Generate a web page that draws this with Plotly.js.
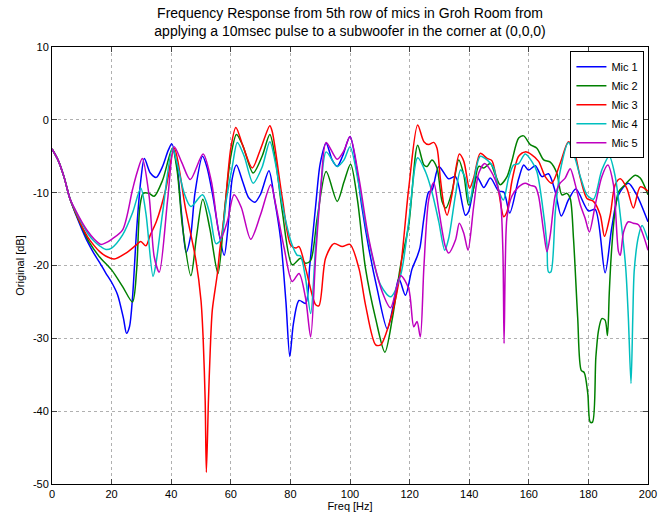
<!DOCTYPE html>
<html>
<head>
<meta charset="utf-8">
<script src="https://cdn.plot.ly/plotly-3.0.1.min.js"></script>
<style>html,body{margin:0;padding:0;background:#fff;}#chart{width:658px;height:517px;}</style>
</head>
<body>
<div id="chart"></div>
<script>
const seriesNames = ["Mic 1", "Mic 2", "Mic 3", "Mic 4", "Mic 5"];

const freq1 = [0,2,4,6,8,10,12,14,16,18,20,22,24,25,26,27,28.4,29.8,31,33,35,37,39,40.2,42,43.5,45,46.5,48,50.5,52,54,56,57.8,59,60.5,61.9,64,66,68.1,70,72.8,74.5,76.7,78.5,79.8,81,82.9,85.1,86.5,88.5,90,92,94,95.7,97.5,100,102,104,106.3,109,112.5,114.5,116.4,118.6,120.8,122.5,123.5,124.8,126.4,127.5,129.8,133.1,135.4,138.7,139.8,142.6,144.9,147.1,149.9,151.6,153.6,156.6,158.3,159.9,162.2,164.4,166.6,168.9,170.9,173.3,175.8,180,182.3,185.6,187.8,190.1,193.4,196.2,200];
const mic1 = [-4,-5.5,-7.8,-10.8,-13,-15,-16.8,-18.3,-19.6,-21,-22.3,-24,-27.3,-29.3,-28.4,-24.5,-15.1,-8.3,-5.3,-7.3,-7.9,-6.5,-4.2,-3.3,-6.5,-13,-18.2,-16,-10,-5.0,-6.5,-10.5,-15.5,-18.6,-15,-8,-6.2,-8.5,-10.7,-11.3,-10.2,-7.0,-10.5,-16.3,-25,-32.5,-28,-24.8,-25.2,-20,-11.7,-6,-3.2,-5.5,-6.4,-5,-2.3,-6,-12,-17.6,-23,-28.7,-25.5,-21.8,-24.1,-20.5,-18.8,-17.5,-13.5,-9.9,-9.7,-6.4,-8.1,-7.8,-13.1,-12.6,-7.8,-9.3,-8.0,-9.8,-9.9,-12.8,-8.1,-6.2,-6.9,-6.3,-7.8,-7.4,-9.9,-13.2,-11.0,-9.5,-12.5,-12.3,-21,-14.9,-10.3,-8.7,-10.3,-14];

const freq2 = [0,2,4,6,8,10,12.5,15.9,20,23.7,27,28.4,29.5,30.6,32.6,34.3,37.1,40.4,42,43.8,46.6,48.5,50.6,53,55.7,58,60,61.9,64,67.5,70.5,73.1,75,77.3,80.6,83.4,85.1,86.8,89,92,95.7,98,100.2,102.5,105.2,108.6,111.7,114.2,117,119.7,122.7,124.8,125.9,127.5,129.2,130.9,132.2,134.2,136.5,138.2,139.8,141.5,143.2,144.9,147.1,148.8,150.4,152.7,154.3,156.6,158.3,160.5,162.7,165,167.2,169.4,171.1,172.8,173.9,175,176.4,177.6,178.6,179.8,180.6,181.4,182.5,183.4,184.5,185.6,186.4,187,187.6,188.8,190.1,192.3,195.7,197.4,200];
const mic2 = [-4,-5.5,-7.8,-10.8,-12.9,-14.7,-16.8,-18.8,-20.6,-22.9,-25.0,-20.6,-11.9,-10.1,-10.1,-10.5,-8.3,-3.9,-7,-14.7,-21.4,-16,-10.9,-15,-21.1,-12,-5.0,-2.0,-3.5,-7.3,-5,-2.0,-5.5,-12.6,-19.9,-19.0,-19.7,-19.3,-13.5,-7.1,-11.2,-8.5,-6.1,-11,-20.4,-27.3,-31.9,-27.3,-19.9,-14.5,-3.5,-6.2,-6.4,-5.5,-6.6,-11.2,-12.1,-9.9,-5.5,-7.6,-11.7,-9.4,-6.4,-6.6,-6.0,-7.6,-8.9,-7.8,-5.7,-2.5,-2.2,-3.4,-3.9,-5.5,-5.8,-7.3,-10.3,-10.1,-10.8,-16.3,-27.1,-34.4,-34.7,-37.6,-41.5,-41.5,-32.6,-28.9,-27.3,-27.5,-29.6,-23.8,-19,-13,-9.9,-8.9,-7.6,-8.0,-10.3];

const freq3 = [0,2,4,6,8,10,12,14,16,18,20.9,24.8,28.2,29.8,31.5,33,35,38.2,41,44.9,48.3,50,50.7,51.4,51.8,52.5,53.1,53.8,55.5,56.3,57.8,60,61.7,64,67.2,70,73.1,73.9,77.3,80.1,81.8,82.9,85.1,88.5,89.6,91.8,94.6,97.4,100,103,105.2,108.6,110.3,113,116.4,119.7,122.7,124.8,126.4,128.1,129.2,130.3,131.5,132.6,134.2,136.7,138.2,140.1,141.5,143.7,146,147.6,149.9,151.6,152.7,154.3,156.6,158.8,161,163.3,165.5,167.7,170.5,173.3,175,177.3,179.5,181.7,184,185.4,187.3,189,190.7,192.9,195.1,197.4,200];
const mic3 = [-4,-5.5,-7.8,-10.8,-12.8,-14.6,-16.1,-17.2,-18.1,-18.7,-19.1,-18.3,-17.2,-16.7,-17.3,-15.8,-14,-9.5,-3.9,-12.4,-19.3,-24.8,-29.8,-38.5,-48.4,-38.5,-31.6,-26.1,-21.1,-17.9,-13.1,-3.9,-1.05,-3.5,-6.6,-4,-0.8,-1.6,-10.8,-17.2,-17.6,-17.4,-20.4,-25.4,-25.5,-19.0,-17.0,-17.4,-17.1,-20.4,-25.4,-30.9,-30.9,-28.2,-22.2,-9.4,-0.7,-3.0,-3.4,-3.1,-3.9,-8.0,-11.7,-13.1,-10.3,-4.7,-5.7,-9.4,-8.0,-4.6,-5.3,-5.6,-9.9,-13.3,-12.6,-8.5,-5.0,-4.4,-4.8,-5.7,-7.8,-8.7,-6.0,-3.0,-3.9,-8.0,-10.8,-11.2,-13.1,-16.0,-13.1,-8.9,-8.1,-9.4,-12.1,-9.2,-9.8];

const freq4 = [0,2,4,6,8,10,12,14,16,18.1,20,23.7,27,29.8,31.5,33.9,34.9,37.1,40.4,42,44.4,46.6,50.5,53,55,56.6,58.5,60.5,62.2,64.5,67.5,70.5,73.1,75,77.3,80.6,82.3,83.4,85.1,86.8,88.5,90.5,92,95.7,98,100,103,106.3,110.3,113.6,117,119.7,122.7,125.3,127.5,129.8,131.8,133.1,135.4,137.1,138.7,140.1,141.5,143.7,146,148.2,150,151.5,153.2,154.9,156.6,158.8,161,162.7,164.4,166.1,166.6,167.4,168.9,170.5,173.3,175,177.3,179.5,181.7,184.5,187,189,190.7,192.5,193.4,194.3,194.9,195.4,196.8,198,200];
const mic4 = [-4,-5.5,-7.8,-10.8,-12.6,-14.2,-15.6,-16.6,-17.3,-17.8,-17.6,-15.8,-12.8,-9.4,-12.8,-21.5,-19.7,-12.8,-3.9,-6,-10.1,-11.9,-10.3,-13,-17.0,-16.5,-11,-6.4,-3.1,-5,-8.7,-6.5,-3.0,-6,-11.7,-17.2,-18.6,-18.7,-21.8,-26.6,-17.2,-8.0,-4.4,-6.4,-5.5,-3.7,-9,-16.7,-22.7,-24.3,-21.3,-14.0,-5.2,-7.1,-9.9,-14.0,-17.9,-16.3,-10.3,-6.9,-8.0,-11.5,-8.5,-5.0,-5.5,-6.6,-9.8,-11,-8.0,-6.2,-6,-4.7,-5.7,-7.1,-11.2,-17.2,-20.9,-20.9,-12.6,-7.1,-3.1,-4.6,-7.8,-10.3,-10.9,-6.9,-5.0,-7.8,-13.1,-20.2,-27.1,-36.2,-27.1,-20.6,-16,-14.5,-16.5];

const freq5 = [0,2,4,6,8,10,12,14,16.4,18,20,23.7,27,28.5,30.3,32.6,34.3,36,38.8,41,43.5,46.4,50.7,53.5,56.6,58.8,61.1,63.5,66.7,70,73.4,75.1,77.9,80.6,82.9,85.1,86.8,88.5,90.2,92,95.7,98,100,103,106.3,110.8,113.6,117,119.7,121.4,122.5,123.6,124.8,126.4,128.1,129.8,132,133.1,135.4,136.7,138.2,139.6,141.5,143.2,145.2,147.1,148.8,150.4,151.3,151.7,152.1,152.7,154.3,156.6,158.8,160.5,162.2,163.3,165,166.1,167.2,168.9,170.5,172.2,173.9,175.6,177.3,178.9,180.3,182.3,184.5,186.5,188.4,190.1,190.7,191.8,193.4,195.1,196.8,200];
const mic5 = [-4,-5.5,-7.8,-10.8,-12.5,-14.0,-15.3,-16.3,-17.1,-16.9,-16.4,-15.1,-9.6,-7.3,-5.3,-10.5,-18.8,-20.9,-11.0,-3.7,-5.8,-8.2,-4.7,-8.5,-16.3,-14,-10.3,-12,-16.4,-13,-8.9,-11.7,-17.6,-22.2,-21.1,-24.5,-29.8,-18.6,-9.4,-3.1,-5.4,-4.2,-2.3,-8,-16.3,-23.6,-25.8,-21.4,-23.2,-28.4,-27.7,-29.8,-20.2,-11.0,-8.6,-12.4,-17.4,-18.3,-16.5,-14.2,-15.6,-17.9,-11.9,-7.3,-6.0,-6.9,-8.3,-10.6,-17.9,-30.7,-20,-13.3,-10.5,-9.2,-8.7,-9.0,-9.2,-10.5,-15.4,-18.1,-15.8,-10.3,-8.7,-8.0,-6.7,-8.9,-11.7,-13.5,-15.4,-11.7,-7.8,-6.2,-8.9,-18.1,-18.6,-15.4,-14.0,-14.2,-14.4,-17.9];

const xTicks = [0,20,40,60,80,100,120,140,160,180,200];
const yTicks = [-50,-40,-30,-20,-10,0,10];
const yTickText = ["-50","-40","-30","-20","-10","0","10"];

const colors = ["#0000ff", "#008000", "#ff0000", "#00bfbf", "#bf00bf"];
const xs = [freq1, freq2, freq3, freq4, freq5];
const ys = [mic1, mic2, mic3, mic4, mic5];

const traces = seriesNames.map((n, i) => ({
  x: xs[i], y: ys[i], name: n, type: "scatter", mode: "lines",
  line: {color: colors[i], width: 1.5, shape: "spline", smoothing: 0.8}
}));

const font = {family: "Liberation Sans, Arial, sans-serif", color: "#000"};

const layout = {
  width: 658, height: 517,
  margin: {l: 52, r: 10, t: 47, b: 33},
  paper_bgcolor: "#fff", plot_bgcolor: "#fff",
  font: Object.assign({size: 11}, font),
  title: {
    text: "Frequency Response from 5th row of mics in Groh Room from<br>applying a 10msec pulse to a subwoofer in the corner at (0,0,0)",
    font: Object.assign({size: 14}, font),
    x: 0.532, xanchor: "center", xref: "container",
    y: 0.965, yanchor: "top", yref: "container"
  },
  xaxis: {
    range: [0, 200], tickvals: xTicks, ticks: "inside", ticklen: 5,
    showline: true, linecolor: "#000", linewidth: 1, mirror: "ticks",
    showgrid: true, gridcolor: "#b0b0b0", griddash: "dot", gridwidth: 1,
    zeroline: false, tickfont: Object.assign({size: 11}, font),
    title: {text: "Freq [Hz]", font: Object.assign({size: 11}, font), standoff: 2}
  },
  yaxis: {
    range: [-50, 10], tickvals: yTicks, ticktext: yTickText, ticks: "inside", ticklen: 5,
    showline: true, linecolor: "#000", linewidth: 1, mirror: "ticks",
    showgrid: true, gridcolor: "#b0b0b0", griddash: "dot", gridwidth: 1,
    zeroline: false, tickfont: Object.assign({size: 11}, font),
    title: {text: "Original [dB]", font: Object.assign({size: 11}, font), standoff: 6}
  },
  legend: {
    x: 0.994, xanchor: "right", y: 0.99, yanchor: "top",
    xref: "paper", yref: "paper",
    bgcolor: "#fff", bordercolor: "#000", borderwidth: 1,
    font: Object.assign({size: 11}, font),
    tracegroupgap: 0, itemwidth: 30
  },
  showlegend: true
};

Plotly.newPlot("chart", traces, layout, {displayModeBar: false, staticPlot: true});
</script>
</body>
</html>
